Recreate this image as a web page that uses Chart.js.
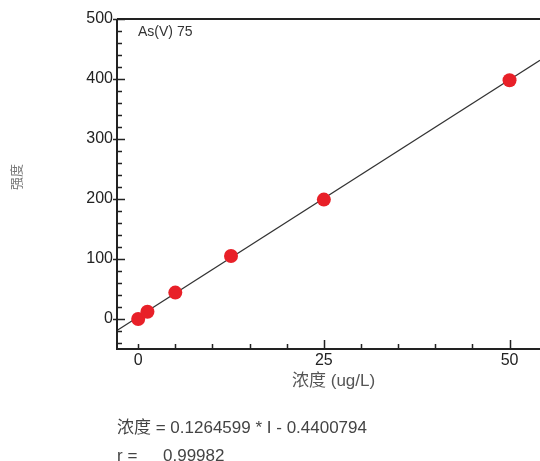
<!DOCTYPE html>
<html>
<head>
<meta charset="utf-8">
<script src="https://cdn.jsdelivr.net/npm/chart.js@4.4.0/dist/chart.umd.min.js"></script>
<style>
  html, body { margin: 0; padding: 0; background: #fff; }
  #wrap { width: 540px; height: 461px; position: relative; }
</style>
</head>
<body>
<div id="wrap"><canvas id="calib"></canvas></div>
<script>
// calibration standards (concentration ug/L) and measured intensity
const concentrations = [0, 1.25, 5, 12.5, 25, 50];
const intensities = [0, 12, 44, 105, 199, 398];

// fit: conc = a * I - b
const fitA = 0.1264599;
const fitB = 0.4400794;
const rValue = "0.99982";

const xTickLabels = [0, 25, 50];
const yTickLabels = [0, 100, 200, 300, 400, 500];
const xRange = [-2.85, 54.1];
const yRange = [-50, 500];

const label = "As(V) 75";
const xTitle = "浓度 (ug/L)";
const yTitle = "强度";

const fitLine = xRange.map((c) => ({ x: c, y: (c + fitB) / fitA }));
const points = concentrations.map((c, i) => ({ x: c, y: intensities[i] }));

const latin = "'Liberation Sans', Arial, sans-serif";
const cjk = "'Liberation Sans', 'Noto Sans CJK SC', sans-serif";

// ticks, frame and the texts around the plot
const decorations = {
  id: "decorations",
  afterDraw(chart) {
    const ctx = chart.ctx;
    const area = chart.chartArea;
    const xs = chart.scales.x;
    const ys = chart.scales.y;
    ctx.save();
    ctx.strokeStyle = "#222";
    ctx.lineWidth = 2;
    ctx.beginPath();
    ctx.moveTo(area.left, area.top);
    ctx.lineTo(area.right, area.top);
    ctx.moveTo(area.left, area.top);
    ctx.lineTo(area.left, area.bottom);
    ctx.lineTo(area.right, area.bottom);
    ctx.stroke();

    ctx.lineWidth = 1.5;
    ctx.beginPath();
    for (let v = -40; v <= 500; v += 20) {
      const py = Math.round(ys.getPixelForValue(v)) + 0.5;
      if (v % 100 === 0) {
        ctx.moveTo(area.left - 4, py);
        ctx.lineTo(area.left + 8, py);
      } else {
        ctx.moveTo(area.left, py);
        ctx.lineTo(area.left + 5, py);
      }
    }
    for (let v = 0; v <= 50; v += 5) {
      const px = Math.round(xs.getPixelForValue(v)) + 0.5;
      const len = v % 25 === 0 && v > 0 ? 9 : 5;
      ctx.moveTo(px, area.bottom);
      ctx.lineTo(px, area.bottom - len);
    }
    ctx.stroke();

    ctx.fillStyle = "#333";
    ctx.textBaseline = "middle";
    ctx.textAlign = "left";
    ctx.font = "14px " + latin;
    ctx.fillText(label, area.left + 21, 32);

    ctx.fillStyle = "#555";
    ctx.font = "17px " + cjk;
    ctx.fillText(xTitle, 292, 381);

    ctx.fillStyle = "#444";
    ctx.fillText("浓度 = " + fitA + " * I - " + fitB, 117, 428);
    ctx.fillText("r =", 117, 456);
    ctx.fillText(rValue, 163, 456);

    ctx.save();
    ctx.translate(17, 177);
    ctx.rotate(-Math.PI / 2);
    ctx.textAlign = "center";
    ctx.fillStyle = "#777";
    ctx.font = "13px " + cjk;
    ctx.fillText(yTitle, 0, 0);
    ctx.restore();
    ctx.restore();
  },
};

new Chart(document.getElementById("calib"), {
  data: {
    datasets: [
      {
        type: "line",
        data: fitLine,
        borderColor: "#333",
        borderWidth: 1.2,
        pointRadius: 0,
        fill: false,
        order: 2,
      },
      {
        type: "scatter",
        data: points,
        backgroundColor: "rgb(232,32,40)",
        borderWidth: 0,
        pointRadius: 7,
        order: 1,
      },
    ],
  },
  options: {
    responsive: true,
    maintainAspectRatio: false,
    animation: false,
    events: [],
    layout: { autoPadding: false, padding: { top: 19, left: 0, right: 0, bottom: 0 } },
    plugins: { legend: { display: false }, tooltip: { enabled: false } },
    scales: {
      x: {
        type: "linear",
        min: xRange[0],
        max: xRange[1],
        afterBuildTicks: (s) => { s.ticks = xTickLabels.map((v) => ({ value: v })); },
        afterFit: (s) => { s.height = 112; s.paddingLeft = 0; s.paddingRight = 0; },
        grid: { display: false, drawTicks: false },
        border: { display: false },
        ticks: { padding: 2, color: "#222", font: { size: 16, family: latin } },
      },
      y: {
        type: "linear",
        min: yRange[0],
        max: yRange[1],
        afterBuildTicks: (s) => { s.ticks = yTickLabels.map((v) => ({ value: v })); },
        afterFit: (s) => { s.width = 117; s.paddingTop = 0; s.paddingBottom = 0; },
        grid: { display: false, drawTicks: false },
        border: { display: false },
        ticks: { padding: 4, color: "#222", font: { size: 16, family: latin } },
      },
    },
  },
  plugins: [decorations],
});
</script>
</body>
</html>
